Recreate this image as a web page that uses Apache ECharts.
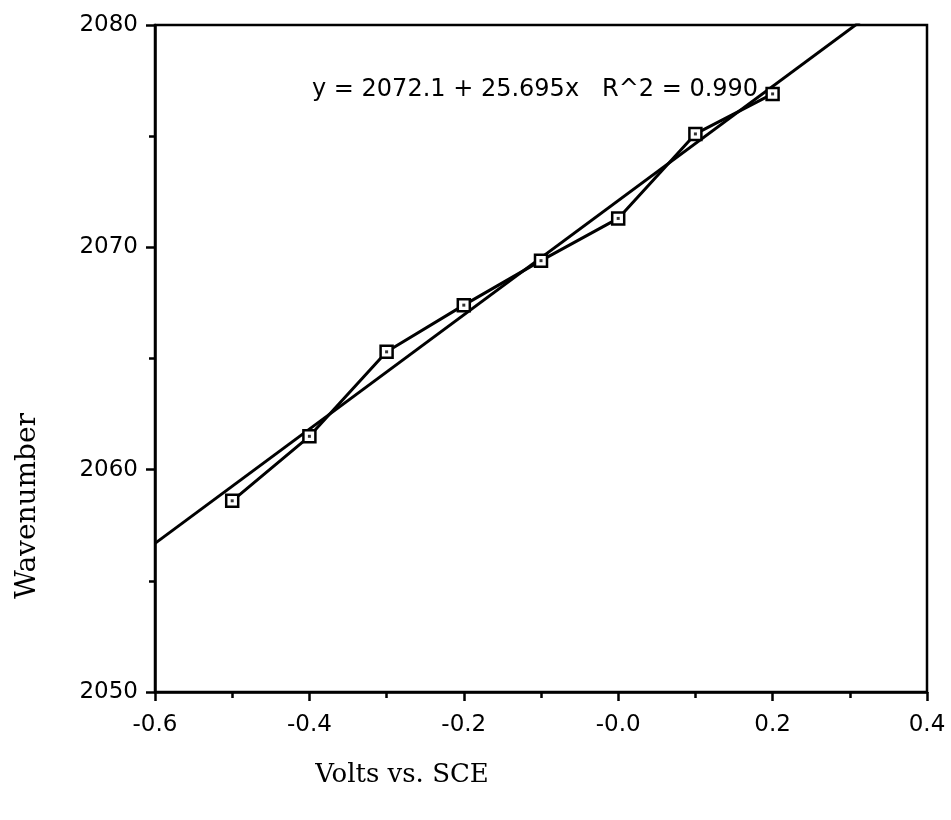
<!DOCTYPE html>
<html>
<head>
<meta charset="utf-8">
<script src="https://cdn.jsdelivr.net/npm/echarts@6/dist/echarts.min.js"></script>
<style>
  html, body { margin: 0; padding: 0; background: #fff; }
  #main { width: 951px; height: 820px; }
</style>
</head>
<body>
<div id="main"></div>
<script>
// measured points (volts vs SCE, wavenumber)
var volts = [-0.5, -0.4, -0.3, -0.2, -0.1, 0.0, 0.1, 0.2];
var wavenumber = [2058.6, 2061.5, 2065.3, 2067.4, 2069.4, 2071.3, 2075.1, 2076.9];

// regression printed on the figure
var intercept = 2072.1;
var slope = 25.695;
var fitX = [-0.6, 0.4];

var xTicks = {'-0.6': '-0.6', '-0.4': '-0.4', '-0.2': '-0.2', '0.0': '-0.0', '0.2': '0.2', '0.4': '0.4'};

var points = volts.map(function (v, i) { return [v, wavenumber[i]]; });
var fitLine = fitX.map(function (v) { return [v, intercept + slope * v]; });

var myChart = echarts.init(document.getElementById('main'));
var tickFont = { fontFamily: 'DejaVu Sans', fontSize: 23, color: '#000' };

var option = {
    backgroundColor: '#fff',
    animation: false,
    grid: {
        left: 155, right: 24, top: 25, bottom: 128,
        show: true, borderColor: '#000', borderWidth: 2.5, backgroundColor: 'transparent'
    },
    xAxis: {
        type: 'value',
        min: -0.6, max: 0.4, interval: 0.2,
        axisLine: { onZero: false, lineStyle: { color: '#000', width: 2.5 } },
        axisTick: { length: 9, lineStyle: { color: '#000', width: 2.5 } },
        minorTick: { show: true, splitNumber: 2, length: 6, lineStyle: { color: '#000', width: 2.5 } },
        splitLine: { show: false },
        axisLabel: Object.assign({
            margin: 22,
            formatter: function (v) {
                var k = (Math.abs(v) < 1e-9 ? 0 : v).toFixed(1);
                return xTicks[k] || k;
            }
        }, tickFont)
    },
    yAxis: {
        type: 'value',
        min: 2050, max: 2080, interval: 10,
        axisLine: { show: true, onZero: false, lineStyle: { color: '#000', width: 2.5 } },
        axisTick: { show: true, length: 9, lineStyle: { color: '#000', width: 2.5 } },
        minorTick: { show: true, splitNumber: 2, length: 6, lineStyle: { color: '#000', width: 2.5 } },
        splitLine: { show: false },
        axisLabel: Object.assign({
            margin: 17,
            formatter: function (v) { return String(v); }
        }, tickFont)
    },
    graphic: [
        {
            type: 'text', left: 312, top: 78,
            style: { text: 'y = 2072.1 + 25.695x   R^2 = 0.990', font: '24px "DejaVu Sans"', fill: '#000' }
        },
        {
            type: 'text', x: 402, y: 775,
            style: { text: 'Volts vs. SCE', font: '26px "DejaVu Serif"', fill: '#000', align: 'center', verticalAlign: 'middle' }
        },
        {
            type: 'text', x: 28, y: 506, rotation: Math.PI / 2,
            style: { text: 'Wavenumber', font: '28px "DejaVu Serif"', fill: '#000', align: 'center', verticalAlign: 'middle' }
        }
    ],
    series: [
        {
            name: 'fit',
            type: 'line',
            data: fitLine,
            showSymbol: false,
            clip: true,
            lineStyle: { color: '#000', width: 3 },
            z: 2
        },
        {
            name: 'data',
            type: 'line',
            data: points,
            symbol: 'rect',
            symbolSize: 12,
            showAllSymbol: true,
            lineStyle: { color: '#000', width: 3 },
            itemStyle: { color: '#fff', borderColor: '#000', borderWidth: 2.5 },
            z: 3
        },
        {
            name: 'dot',
            type: 'scatter',
            data: points,
            symbol: 'rect',
            symbolSize: 3,
            itemStyle: { color: '#000' },
            z: 4
        }
    ]
};
myChart.setOption(option);
</script>
</body>
</html>
